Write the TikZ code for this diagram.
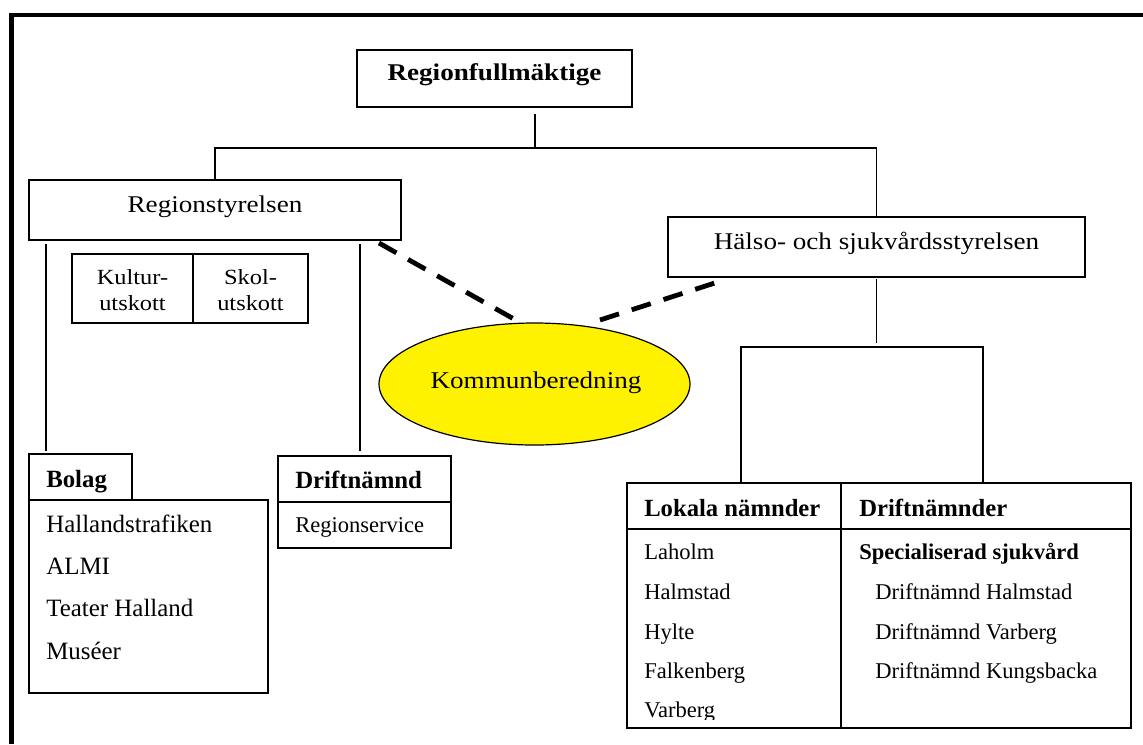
\documentclass[tikz,border=0pt]{standalone}
\usepackage{fontspec}
\setmainfont{Liberation Serif}
\newfontfamily\geo[FakeStretch=1.13]{Liberation Serif}
\usetikzlibrary{shapes.geometric,fit,calc}
\begin{document}
\begin{tikzpicture}[x=0.75pt,y=-0.75pt,
  box/.style={draw, line width=1pt, inner sep=0pt},
  tbox/.style={draw, line width=1.3pt, inner sep=0pt},
  conn/.style={line width=1pt},
  kdash/.style={line width=3.6pt, dash pattern=on 15pt off 10pt},
  frame/.style={line width=3.7pt, line join=miter},
  lbl/.style={anchor=base, inner sep=0pt},
  lbll/.style={anchor=base west, inner sep=0pt},
  gL/.style={font=\geo\fontsize{18}{21}\selectfont},
  gB/.style={font=\geo\bfseries\fontsize{18}{21}\selectfont},
  gS/.style={font=\geo\fontsize{16.2}{19}\selectfont},
  tBig/.style={font=\fontsize{18.7}{22}\selectfont},
  tBigB/.style={font=\bfseries\fontsize{18.6}{22}\selectfont},
  tMid/.style={font=\fontsize{16.9}{20}\selectfont},
  tMidB/.style={font=\bfseries\fontsize{16.9}{20}\selectfont},
  tHdB/.style={font=\bfseries\fontsize{18.5}{22}\selectfont}
]
\useasboundingbox (0,0) rectangle (1143,744);

% outer frame (top and left only)
\draw[frame] (11.5,744) -- (11.5,15) -- (1143,15);

% top level
\node[box, fit={(357,50)(632,107)}] (rf) {};
\node[lbl, gB] (rft) at (494.5,80) {Regionfullmäktige};

\node[box, fit={(29,180)(401,240)}] (rs) {};
\node[lbl, gL] (rst) at (215,212) {Regionstyrelsen};

\node[box, fit={(668,217)(1085,277)}] (hs) {};
\node[lbl, gL] (hst) at (876.5,249) {Hälso- och sjukvårdsstyrelsen};

% utskott
\node[box, fit={(72,254)(193,323)}] (ku) {};
\node[box, fit={(193,254)(308,323)}] (sk) {};
\node[lbl, gS] (kut1) at (132.5,284) {Kultur-};
\node[lbl, gS] (kut2) at (132.5,310) {utskott};
\node[lbl, gS] (skt1) at (250.5,284) {Skol-};
\node[lbl, gS] (skt2) at (250.5,310) {utskott};

% Kommunberedning
\node[ellipse, draw, line width=0.9pt, fill=yellow, inner sep=0pt,
      minimum width=233.25pt, minimum height=91.5pt] (kb) at (534.5,384) {};
\node[lbl, gL] (kbt) at (536,388) {Kommunberedning};

% Bolag
\node[box, fit={(29,454)(132,500)}] (bh) {};
\node[box, fit={(29,500)(268,693)}] (bb) {};
\node[lbll, tBigB] (bht) at (46,487) {Bolag};
\node[lbll, tBig] (b1) at (46,532) {Hallandstrafiken};
\node[lbll, tBig] (b2) at (46,574) {ALMI};
\node[lbll, tBig] (b3) at (46,616) {Teater Halland};
\node[lbll, tBig] (b4) at (46,659) {Muséer};

% Driftnämnd
\node[tbox, fit={(278,456)(451,502)}] (dh) {};
\node[tbox, fit={(278,502)(451,548)}] (db) {};
\node[lbll, tBigB] (dht) at (295,488) {Driftnämnd};
\node[lbll, tMid] (dbt) at (295,532) {Regionservice};

% right table
\node[tbox, fit={(627,483)(841,529)}] (lh) {};
\node[tbox, fit={(841,483)(1131,529)}] (rh) {};
\node[tbox, fit={(627,529)(841,728)}] (lb) {};
\node[tbox, fit={(841,529)(1131,728)}] (rb) {};
\node[lbll, tHdB] (lht) at (644,516) {Lokala nämnder};
\node[lbll, tHdB] (rht) at (859,516) {Driftnämnder};
\node[lbll, tMid] (l1) at (644,559) {Laholm};
\node[lbll, tMid] (l2) at (644,599) {Halmstad};
\node[lbll, tMid] (l3) at (644,639) {Hylte};
\node[lbll, tMid] (l4) at (644,678) {Falkenberg};
\begin{scope}
  \clip (627,529) rectangle (841,719);
  \node[lbll, tMid] (l5) at (644,717) {Varberg};
\end{scope}
\node[lbll, tMidB] (r0) at (859,559) {Specialiserad sjukvård};
\node[lbll, tMid] (r1) at (875,599) {Driftnämnd Halmstad};
\node[lbll, tMid] (r2) at (875,639) {Driftnämnd Varberg};
\node[lbll, tMid] (r3) at (875,678) {Driftnämnd Kungsbacka};

% connectors
\coordinate (rfdrop) at (535,114);
\coordinate (bar) at (535,148);
\draw[conn] (rfdrop) -- (bar);
\draw[conn] (rs.north) |- (bar) -| (hs.north);

\coordinate (hsdrop) at (876.5,279);
\coordinate (hsbr) at (876.5,343);
\draw[conn] (hsdrop) -- (hsbr);
\coordinate (brl) at (741,347);
\coordinate (brr) at (983,347);
\draw[conn] (brl |- lh.north) -- (brl) -- (brr) -- (brr |- rh.north);

\coordinate (rsl) at (46,244);
\coordinate (rsr) at (360,244);
\draw[conn] (rsl) -- ($(rsl |- bh.north)+(0,-2)$);
\draw[conn] (rsr) -- ($(rsr |- dh.north)+(0,-4)$);

% dashed links to Kommunberedning
\coordinate (d1a) at (379,243);
\coordinate (d1b) at (521,323);
\coordinate (d2a) at (600,320);
\coordinate (d2b) at (721,281);
\draw[kdash] (d1a) -- (d1b);
\draw[kdash] (d2a) -- (d2b);
\end{tikzpicture}
\end{document}
